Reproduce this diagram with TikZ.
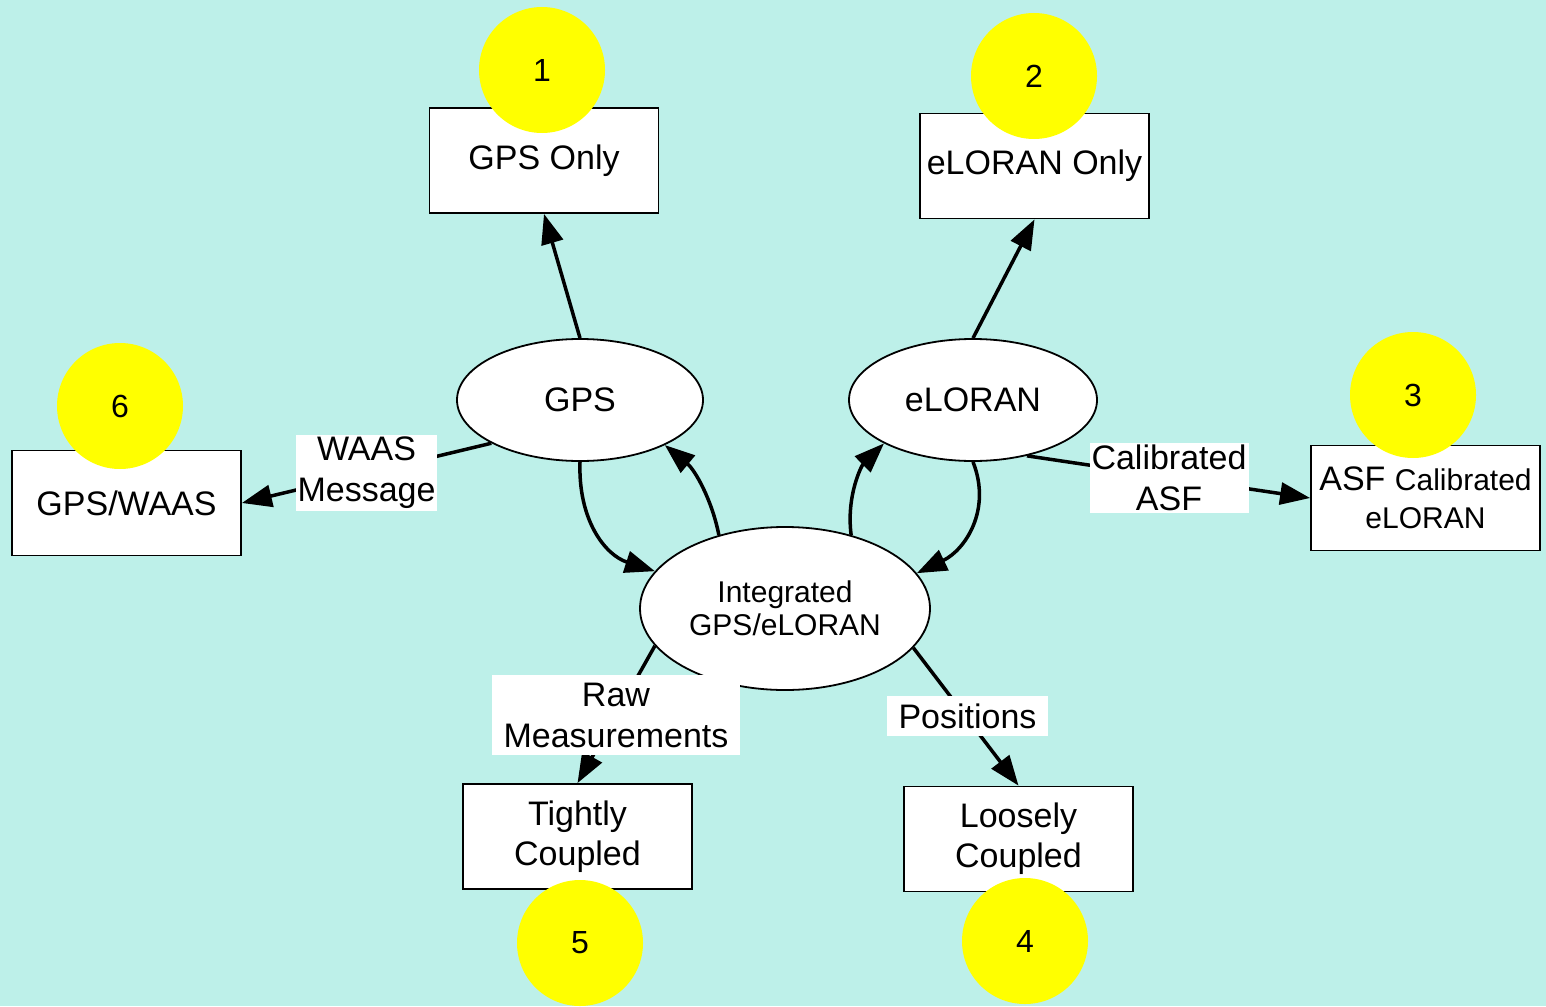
\documentclass[tikz,border=0pt]{standalone}
\usepackage{fontspec}
\setmainfont{Liberation Sans}
\usetikzlibrary{shapes.geometric,arrows.meta}
\definecolor{bgc}{RGB}{189,240,233}
\definecolor{yel}{RGB}{255,255,0}
\newcommand{\fs}[2]{\fontsize{#1}{#2}\selectfont}
\tikzset{
  boxnode/.style={draw=black, fill=white, line width=1.8pt, minimum width=229pt, minimum height=105pt, inner sep=0pt, align=center, font=\fs{34}{40}},
  ellnode/.style={draw=black, fill=white, ellipse, line width=1.8pt, inner sep=0pt, align=center, font=\fs{34}{40}},
  numnode/.style={fill=yel, circle, minimum size=126pt, inner sep=0pt, font=\fs{32}{38}},
  edgelab/.style={fill=white, inner sep=2pt, align=center, font=\fs{34}{41}},
  conn/.style={line width=3.5pt, -{Triangle[length=30pt,width=22pt]}}
}
\begin{document}
\begin{tikzpicture}[x=1pt,y=-1pt]
\fill[bgc] (0,0) rectangle (1546,1006);
\useasboundingbox (0,0) rectangle (1546,1006);
% boxes
\node[boxnode] (gpsonly) at (544,160.5) {GPS Only};
\node[boxnode] (eloonly) at (1034.5,166) {eLORAN Only};
\node[boxnode] (asf) at (1425.5,498) {{\fs{34}{38}ASF} {\fs{30}{38}Calibrated}\\[-2pt]{\fs{30}{38}eLORAN}};
\node[boxnode] (waas) at (126.5,503) {GPS/WAAS};
\node[boxnode] (tight) at (577.5,836.5) {Tightly\\Coupled};
\node[boxnode] (loose) at (1018.5,839) {Loosely\\Coupled};
% ellipses
\node[ellnode, minimum width=246pt, minimum height=122pt] (gps) at (580,400) {GPS};
\node[ellnode, minimum width=248pt, minimum height=122pt] (elo) at (973,400) {eLORAN};
\node[ellnode, minimum width=290pt, minimum height=163pt, font=\fs{30}{33}] (int) at (785,608.5) {Integrated\\GPS/eLORAN};
% numbered circles
\node[numnode] (n1) at (542,70) {1};
\node[numnode] (n2) at (1034,76) {2};
\node[numnode] (n3) at (1413,395) {3};
\node[numnode] (n4) at (1025,941) {4};
\node[numnode] (n5) at (580,943) {5};
\node[numnode] (n6) at (120,406) {6};
% connectors
\draw[conn] (gps.north) -- (gpsonly.south);
\draw[conn] (elo.north) -- (eloonly.south);
\draw[conn] (gps.206) -- (waas.east);
\draw[conn] (elo.314.5) -- (asf.west);
\draw[conn] (gps.south) .. controls (578,520) and (605,555) .. (int.164);
\draw[conn] (int.132.5) .. controls (712,500) and (695,470) .. (gps.332);
\draw[conn] (int.48) .. controls (846,495) and (862,465) .. (elo.206.6);
\draw[conn] (elo.south) .. controls (992,510) and (965,550) .. (int.15.5);
\draw[conn] (int.196.7) -- (tight.north);
\draw[conn] (int.343.4) -- (loose.north);
% edge labels
\node[edgelab] (lwaas) at (366.5,473) {WAAS\\Message};
\node[edgelab] (lasf) at (1169,478) {Calibrated\\ASF};
\node[edgelab, minimum width=248pt, minimum height=80pt] (lraw) at (616,715) {Raw\\Measurements};
\node[edgelab, minimum width=161pt, minimum height=40pt] (lpos) at (967.5,716) {Positions};
\end{tikzpicture}
\end{document}
